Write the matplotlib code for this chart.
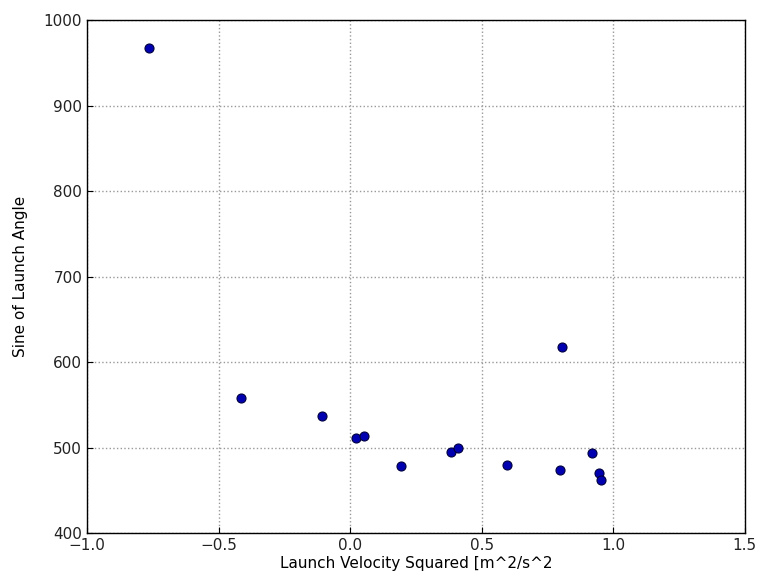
from matplotlib import pyplot as plt
import numpy as np

# data
velocity_sq = [-0.764, -0.415, -0.107, 0.022, 0.052, 0.193, 0.383, 0.41,
               0.596, 0.797, 0.805, 0.919, 0.945, 0.953]
sine_angle = [968, 558, 537, 511, 514, 478, 495, 500,
              480, 474, 618, 493, 470, 462]

xticks = [-1.0, -0.5, 0.0, 0.5, 1.0, 1.5]
yticks = [400, 500, 600, 700, 800, 900, 1000]

plt.rcParams['font.family'] = ['DejaVu Sans']
plt.rcParams['text.color'] = '#222222'
fig = plt.figure(figsize=(7.6, 5.76), dpi=100)
ax = fig.add_axes([0.1145, 0.0747, 0.8655, 0.8903])

ax.plot(velocity_sq, sine_angle, 'o', color='#0000b0', markeredgecolor='#000040',
        markersize=6.5, markeredgewidth=0.8)

ax.set_xlim(-1.0, 1.5)
ax.set_ylim(400, 1000)
ax.set_xticks(xticks)
ax.set_yticks(yticks)
ax.grid(True, linestyle=':', color='#999999', linewidth=1)
ax.tick_params(direction='in', length=4, labelsize=11, color='black',
               labelcolor='#222222')
for s in ax.spines.values():
    s.set_linewidth(1)

ax.set_xlabel("Launch Velocity Squared [m^2/s^2", fontsize=11, labelpad=2)
ax.set_ylabel("Sine of Launch Angle", fontsize=11, labelpad=11)

fig.savefig('out.png', dpi=100)
